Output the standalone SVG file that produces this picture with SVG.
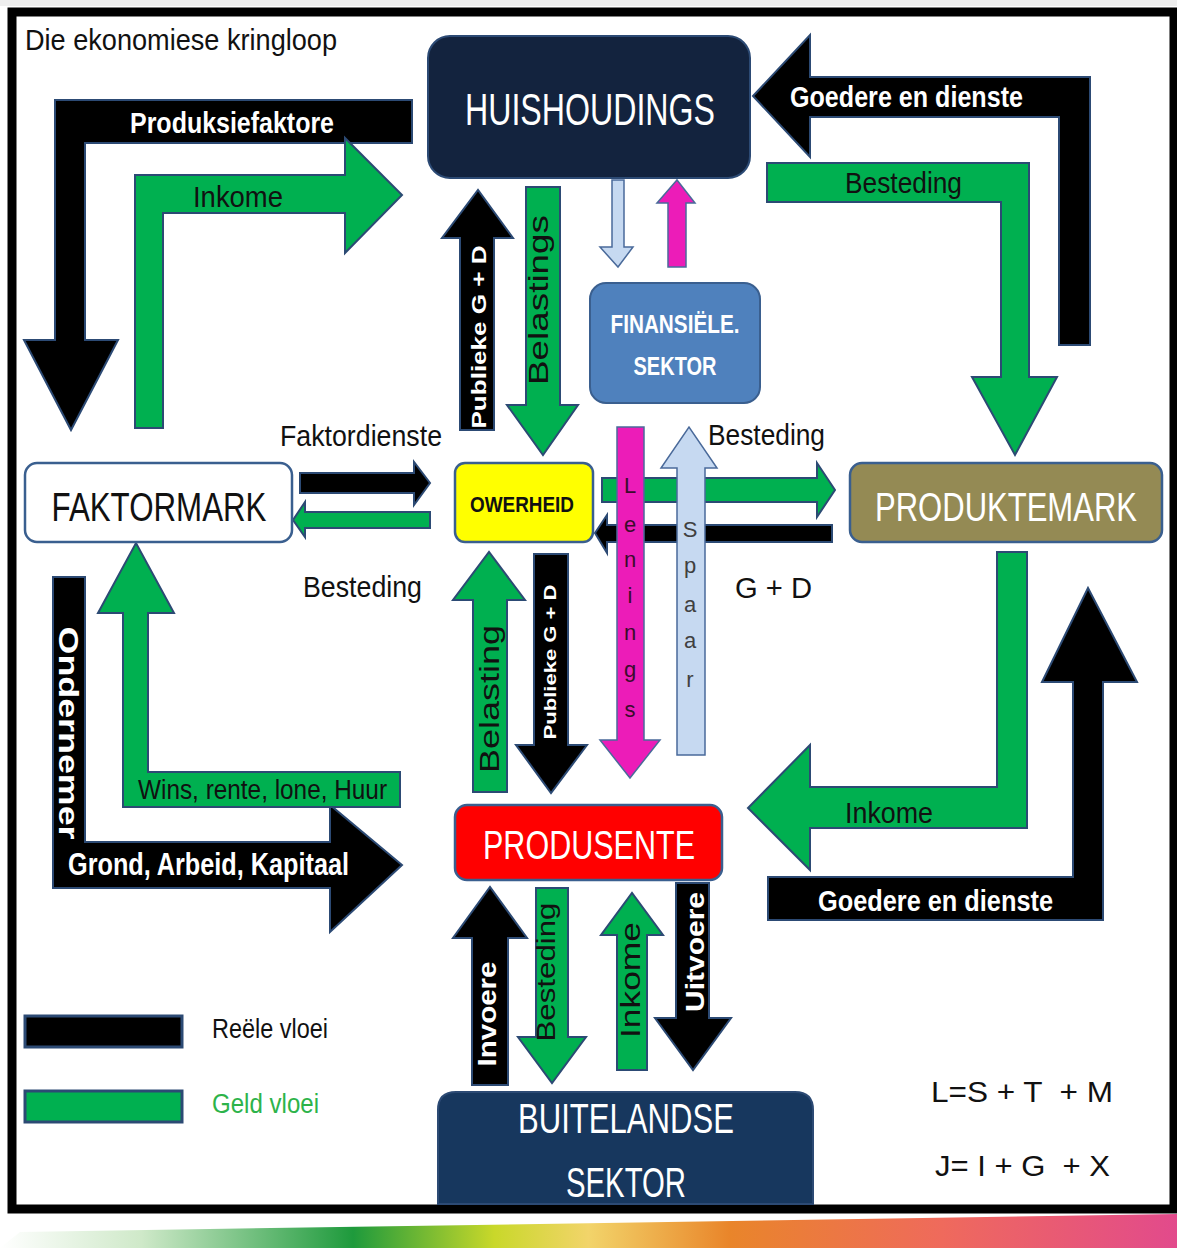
<svg xmlns="http://www.w3.org/2000/svg" width="1177" height="1248" viewBox="0 0 1177 1248">
<defs>
<linearGradient id="sw" x1="0" y1="0" x2="1" y2="0">
<stop offset="0" stop-color="#ffffff"/>
<stop offset="0.12" stop-color="#cfe9c9"/>
<stop offset="0.3" stop-color="#1e9a3c"/>
<stop offset="0.42" stop-color="#c9d82a"/>
<stop offset="0.5" stop-color="#f2d46a"/>
<stop offset="0.62" stop-color="#e9852a"/>
<stop offset="0.8" stop-color="#ef6a5c"/>
<stop offset="1" stop-color="#e24a8c"/>
</linearGradient>
</defs>
<style>
.blk{fill:#000;stroke:#2c4a74;stroke-width:2}
.grn{fill:#00b050;stroke:#2c4a74;stroke-width:2}
.t{font-family:"Liberation Sans",Arial,sans-serif}
.w{fill:#fff;font-weight:bold}
.d{fill:#111}
.c{text-anchor:middle}
.r{dominant-baseline:central;text-anchor:middle}
</style>
<rect x="0" y="0" width="1177" height="1248" fill="#fff"/>
<rect x="0" y="0" width="1177" height="6" fill="#eeeeee"/>
<polygon points="0,1248 20,1232 1177,1214 1177,1248" fill="url(#sw)"/>
<rect x="12" y="12" width="1162" height="1197" fill="#fff" stroke="#000" stroke-width="9"/>

<g id="title"><text class="t d" x="25" y="50" font-size="30" textLength="312" lengthAdjust="spacingAndGlyphs">Die ekonomiese kringloop</text></g>

<g id="connectors">
<polygon class="blk" points="412,100 55,100 55,340 24,340 71,430 118,340 85,340 85,143 412,143"/>
<text class="t w" x="130" y="133" font-size="29" textLength="204" lengthAdjust="spacingAndGlyphs">Produksiefaktore</text>
<polygon class="grn" points="135,428 135,175 345,175 345,138 402,195 345,253 345,213 163,213 163,428"/>
<text class="t d" x="193" y="207" font-size="30" textLength="90" lengthAdjust="spacingAndGlyphs">Inkome</text>
<polygon class="blk" points="1059,345 1059,117 810,117 810,157 753,96 810,35 810,77 1090,77 1090,345"/>
<text class="t w" x="790" y="107" font-size="29" textLength="233" lengthAdjust="spacingAndGlyphs">Goedere en dienste</text>
<polygon class="grn" points="767,163 1029,163 1029,377 1057,377 1015,455 972,377 1001,377 1001,202 767,202"/>
<text class="t d" x="845" y="193" font-size="30" textLength="117" lengthAdjust="spacingAndGlyphs">Besteding</text>
<polygon class="blk" points="53,577 85,577 85,842 330,842 330,805 402,865 330,932 330,888 53,888"/>
<text class="t w r" transform="translate(68,733) rotate(90)" font-size="28" textLength="213" lengthAdjust="spacingAndGlyphs">Ondernemer</text>
<text class="t w" x="68" y="875" font-size="31" textLength="281" lengthAdjust="spacingAndGlyphs">Grond, Arbeid, Kapitaal</text>
<polygon class="grn" points="123,807 123,613 98,613 136,543 174,613 148,613 148,772 400,772 400,807"/>
<text class="t d" x="138" y="799" font-size="27" textLength="249" lengthAdjust="spacingAndGlyphs">Wins, rente, lone, Huur</text>
<polygon class="grn" points="997,552 1027,552 1027,828 810,828 810,870 748,808 810,745 810,787 997,787"/>
<text class="t d" x="845" y="823" font-size="30" textLength="88" lengthAdjust="spacingAndGlyphs">Inkome</text>
<polygon class="blk" points="768,877 1073,877 1073,682 1042,682 1088,588 1137,682 1103,682 1103,920 768,920"/>
<text class="t w" x="818" y="911" font-size="29" textLength="235" lengthAdjust="spacingAndGlyphs">Goedere en dienste</text>

<polygon class="blk" points="460,430 460,238 442,238 478,190 513,238 494,238 494,430"/>
<text class="t w r" transform="translate(478,337) rotate(-90)" font-size="21" textLength="183" lengthAdjust="spacingAndGlyphs">Publieke G + D</text>
<polygon class="grn" points="526,187 560,187 560,405 578,405 543,455 507,405 526,405"/>
<text class="t d r" transform="translate(538,300) rotate(-90)" font-size="28" textLength="170" lengthAdjust="spacingAndGlyphs">Belastings</text>

<polygon points="612,180 624,180 624,247 633,247 618,267 600,247 612,247" fill="#c6d9f1" stroke="#4a6a9a" stroke-width="1.5"/>
<polygon points="668,267 686,267 686,203 695,203 677,180 657,203 668,203" fill="#ec1cb8" stroke="#4a6a9a" stroke-width="1.5"/>

<polygon class="blk" points="300,473 414,473 414,462 430,483 414,505 414,493 300,493"/>
<polygon class="grn" points="430,512 305,512 305,502 293,520 305,537 305,528 430,528"/>
<text class="t d" x="280" y="446" font-size="29" textLength="162" lengthAdjust="spacingAndGlyphs">Faktordienste</text>
<text class="t d" x="303" y="597" font-size="30" textLength="119" lengthAdjust="spacingAndGlyphs">Besteding</text>

<polygon class="grn" points="602,478 817,478 817,463 835,490 817,517 817,502 602,502"/>
<polygon class="blk" points="832,525 607,525 607,515 595,533 607,553 607,542 832,542"/>
<text class="t d" x="708" y="445" font-size="30" textLength="117" lengthAdjust="spacingAndGlyphs">Besteding</text>
<text class="t d" x="735" y="598" font-size="30" textLength="77" lengthAdjust="spacingAndGlyphs">G + D</text>

<polygon class="grn" points="473,792 473,600 453,600 489,552 525,600 507,600 507,792"/>
<text class="t d r" transform="translate(490,699) rotate(-90)" font-size="27" textLength="148" lengthAdjust="spacingAndGlyphs">Belasting</text>
<polygon class="blk" points="534,554 568,554 568,745 587,745 551,793 516,745 534,745"/>
<text class="t w r" transform="translate(550,662) rotate(-90)" font-size="17" textLength="155" lengthAdjust="spacingAndGlyphs">Publieke G + D</text>

<polygon points="617,427 644,427 644,740 660,740 630,778 600,740 617,740" fill="#ec1cb8" stroke="#4a6a9a" stroke-width="1.5"/>
<text class="t c" fill="#3a0c2c" font-size="22" x="630 630 630 630 630 630 630" y="493 532 567 603 640 677 717">Lenings</text>
<polygon points="677,755 705,755 705,468 717,468 689,427 661,468 677,468" fill="#c6d9f1" stroke="#4a6a9a" stroke-width="1.5"/>
<text class="t c" fill="#404040" font-size="22" x="690 690 690 690 690" y="537 573 612 648 687">Spaar</text>

<polygon class="blk" points="472,1085 472,938 453,938 490,887 527,938 508,938 508,1085"/>
<text class="t w r" transform="translate(487,1014) rotate(-90)" font-size="25" textLength="105" lengthAdjust="spacingAndGlyphs">Invoere</text>
<polygon class="grn" points="536,888 568,888 568,1037 586,1037 552,1083 518,1037 536,1037"/>
<text class="t d r" transform="translate(546,972) rotate(-90)" font-size="25" textLength="139" lengthAdjust="spacingAndGlyphs">Besteding</text>
<polygon class="grn" points="617,1070 617,935 601,935 632,893 663,935 647,935 647,1070"/>
<text class="t d r" transform="translate(631,980) rotate(-90)" font-size="27" textLength="116" lengthAdjust="spacingAndGlyphs">Inkome</text>
<polygon class="blk" points="676,883 709,883 709,1018 731,1018 693,1070 655,1018 676,1018"/>
<text class="t w r" transform="translate(695,952) rotate(-90)" font-size="25" textLength="120" lengthAdjust="spacingAndGlyphs">Uitvoere</text>
</g>

<g id="huishoudings">
<rect x="428" y="36" width="322" height="142" rx="22" fill="#13233e" stroke="#2c4a74" stroke-width="2"/>
<text class="t c" fill="#fff" x="590" y="125" font-size="44" textLength="250" lengthAdjust="spacingAndGlyphs">HUISHOUDINGS</text>
</g>
<g id="finansiele">
<rect x="590" y="283" width="170" height="120" rx="16" fill="#4f81bd" stroke="#3a5f8f" stroke-width="2"/>
<text class="t c w" x="675" y="333" font-size="25" textLength="129" lengthAdjust="spacingAndGlyphs">FINANSIËLE.</text>
<text class="t c w" x="675" y="375" font-size="25" textLength="83" lengthAdjust="spacingAndGlyphs">SEKTOR</text>
</g>
<g id="faktormark">
<rect x="25" y="463" width="267" height="79" rx="12" fill="#fff" stroke="#3a5f8f" stroke-width="2.5"/>
<text class="t c d" x="159" y="521" font-size="40" textLength="215" lengthAdjust="spacingAndGlyphs">FAKTORMARK</text>
</g>
<g id="owerheid">
<rect x="455" y="463" width="138" height="79" rx="10" fill="#ffff00" stroke="#3a5f8f" stroke-width="2.5"/>
<text class="t c d" x="522" y="512" font-size="22" font-weight="bold" textLength="104" lengthAdjust="spacingAndGlyphs">OWERHEID</text>
</g>
<g id="produktemark">
<rect x="850" y="463" width="312" height="79" rx="12" fill="#948a54" stroke="#3a5f8f" stroke-width="2.5"/>
<text class="t c" fill="#fff" x="1006" y="521" font-size="40" textLength="262" lengthAdjust="spacingAndGlyphs">PRODUKTEMARK</text>
</g>
<g id="produsente">
<rect x="455" y="805" width="267" height="75" rx="12" fill="#ff0000" stroke="#3a5f8f" stroke-width="2.5"/>
<text class="t c" fill="#fff" x="589" y="859" font-size="41" textLength="212" lengthAdjust="spacingAndGlyphs">PRODUSENTE</text>
</g>
<g id="buitelandse">
<path d="M438,1204 L438,1110 Q438,1092 456,1092 L795,1092 Q813,1092 813,1110 L813,1204 Z" fill="#17375e" stroke="#2c4a74" stroke-width="2"/>
<text class="t c" fill="#fff" x="626" y="1133" font-size="42" textLength="216" lengthAdjust="spacingAndGlyphs">BUITELANDSE</text>
<text class="t c" fill="#fff" x="626" y="1197" font-size="42" textLength="120" lengthAdjust="spacingAndGlyphs">SEKTOR</text>
</g>
<g id="legend">
<rect x="25" y="1016" width="157" height="31" fill="#000" stroke="#2c4a74" stroke-width="3"/>
<text class="t d" x="212" y="1038" font-size="27" textLength="116" lengthAdjust="spacingAndGlyphs">Reële vloei</text>
<rect x="25" y="1091" width="157" height="31" fill="#00b050" stroke="#2c4a74" stroke-width="3"/>
<text class="t" fill="#2db34a" x="212" y="1113" font-size="27" textLength="107" lengthAdjust="spacingAndGlyphs">Geld vloei</text>
</g>
<g id="formules">
<text class="t d" xml:space="preserve" x="931" y="1102" font-size="30" textLength="182" lengthAdjust="spacingAndGlyphs">L=S + T  + M</text>
<text class="t d" xml:space="preserve" x="935" y="1176" font-size="30" textLength="175" lengthAdjust="spacingAndGlyphs">J= I + G  + X</text>
</g>
</svg>
